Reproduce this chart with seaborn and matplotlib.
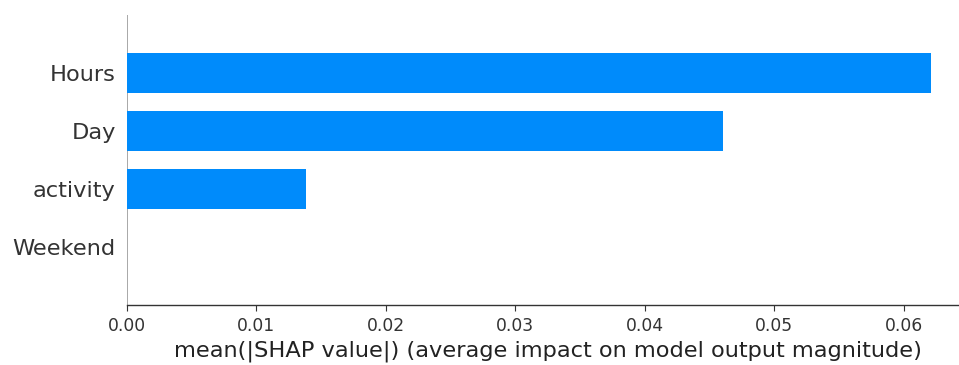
import pandas as pd
import matplotlib
matplotlib.use('Agg')
import matplotlib.pyplot as plt
import seaborn as sns

# 특성별 평균 |SHAP| 값
features = ['Hours', 'Day', 'activity', 'Weekend']
mean_shap = [0.0621, 0.0460, 0.0138, 0.0]

df = pd.DataFrame({'feature': features, 'value': mean_shap})

sns.set_style('white')
plt.rcParams['font.family'] = ['DejaVu Sans']

fig = plt.figure(figsize=(9.59, 3.65), dpi=100)
ax = fig.add_axes([0.1324, 0.1644, 0.879, 0.7945])

ax.axvline(x=0, color='#999999', zorder=-1, linewidth=1.2)
sns.barplot(x='value', y='feature', data=df, order=features, orient='h',
            color='#008bfb', saturation=1, width=0.7, linewidth=0, ax=ax)

axis_color = '#333333'
ax.set_xlim(0, 0.0651)
ax.set_ylim(4, -1)
ax.spines['right'].set_visible(False)
ax.spines['top'].set_visible(False)
ax.spines['left'].set_visible(False)
ax.spines['bottom'].set_color(axis_color)
ax.spines['bottom'].set_linewidth(1.0)
ax.xaxis.set_ticks_position('bottom')
ax.set_xticks([0.0, 0.01, 0.02, 0.03, 0.04, 0.05, 0.06])
ax.tick_params('x', colors=axis_color, labelcolor=axis_color, labelsize=12.3,
               length=4.5, width=0.8, pad=4)
ax.tick_params('y', length=0, labelsize=16.2, labelcolor=axis_color, pad=8)
ax.set_ylabel('')
ax.set_xlabel('mean(|SHAP value|) (average impact on model output magnitude)',
              fontsize=16.2, color='#222222', labelpad=4)

fig.savefig('out.png', dpi=100)
